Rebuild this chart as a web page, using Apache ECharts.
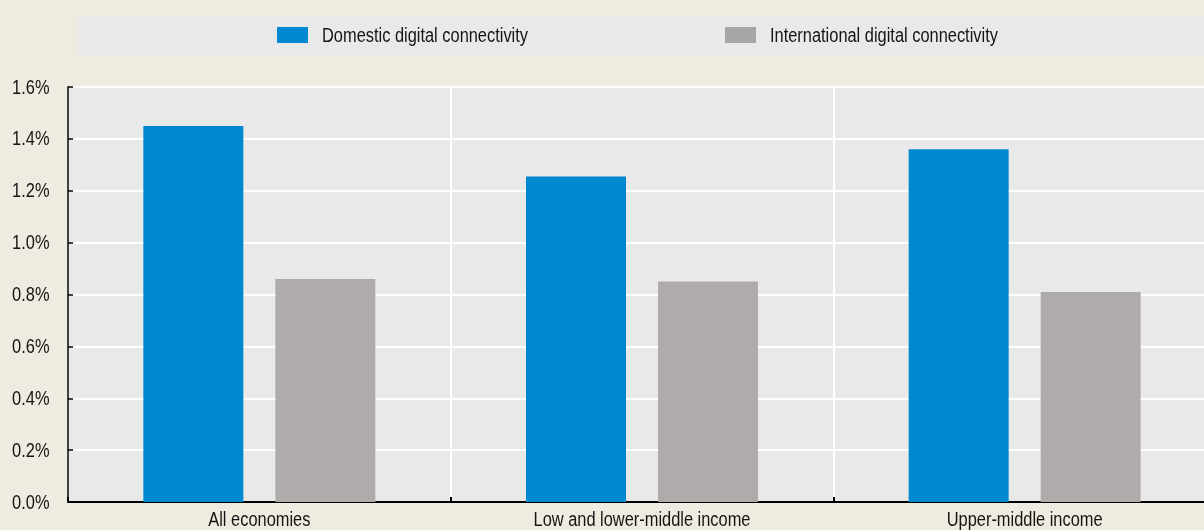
<!DOCTYPE html>
<html>
<head>
<meta charset="utf-8">
<style>
  html, body { margin: 0; padding: 0; background: #eeebe0; }
  #chart { width: 1204px; height: 530px; }
</style>
<script src="https://cdn.jsdelivr.net/npm/echarts@6/dist/echarts.min.js"></script>
</head>
<body>
<div id="chart"></div>
<script>
// Income groups on the horizontal axis
const categories = ['All economies', 'Low and lower-middle income', 'Upper-middle income'];
// Effects in percent
const domestic = [1.45, 1.255, 1.36];
const international = [0.86, 0.85, 0.81];
const seriesNames = ['Domestic digital connectivity', 'International digital connectivity'];
// Value-axis ticks and their labels
const yTicks = [0, 0.2, 0.4, 0.6, 0.8, 1.0, 1.2, 1.4, 1.6];
const yTickLabels = ['0.0%', '0.2%', '0.4%', '0.6%', '0.8%', '1.0%', '1.2%', '1.4%', '1.6%'];

const BLUE = '#0088d1';
const GREY = '#afabaa';
const GREY_KEY = '#a6a6a6';
const TEXT = '#151515';
// Narrow sans look: regular sans squeezed horizontally
const FONT = "20px 'Liberation Sans', Arial, sans-serif";
const SQUEEZE = 0.82;

const chart = echarts.init(document.getElementById('chart'), null, { renderer: 'canvas' });

chart.setOption({
  backgroundColor: '#eeebe0',
  animation: false,
  grid: {
    left: 68,
    top: 87,
    width: 1148,
    height: 415,
    outerBoundsMode: 'none',
    containLabel: false,
    show: true,
    backgroundColor: '#e9e9e9',
    borderWidth: 0
  },
  xAxis: {
    type: 'category',
    data: categories,
    boundaryGap: true,
    axisLine: { show: true, lineStyle: { color: '#000000', width: 2 } },
    axisTick: { show: true, inside: true, length: 5, lineStyle: { color: '#000000', width: 2 } },
    splitLine: { show: true, lineStyle: { color: '#ffffff', width: 2 } },
    axisLabel: { show: false }
  },
  yAxis: {
    type: 'value',
    min: yTicks[0],
    max: yTicks[yTicks.length - 1],
    interval: 0.2,
    axisLine: { show: true, lineStyle: { color: '#000000', width: 1.5 } },
    axisTick: { show: true, inside: true, length: 5, lineStyle: { color: '#000000', width: 1.5 } },
    splitLine: { show: true, lineStyle: { color: '#ffffff', width: 2 } },
    axisLabel: { show: false }
  },
  series: [
    {
      name: seriesNames[0],
      type: 'bar',
      data: domestic,
      barWidth: 100,
      barGap: '32%',
      itemStyle: { color: BLUE }
    },
    {
      name: seriesNames[1],
      type: 'bar',
      data: international,
      barWidth: 100,
      itemStyle: { color: GREY }
    }
  ]
});

// Text drawn as squeezed graphic labels, placed through the axes' own scales
function label(text, x, y, align, vAlign) {
  return {
    type: 'text',
    x: x, y: y,
    scaleX: SQUEEZE,
    silent: true,
    style: { text: text, font: FONT, fill: TEXT, align: align, verticalAlign: vAlign }
  };
}

const graphics = [];

// Legend band and keys
graphics.push({
  type: 'rect', z: -1, silent: true,
  shape: { x: 78, y: 16, width: 1140, height: 39 },
  style: { fill: '#e9e9e9' }
});
const keyColors = [BLUE, GREY_KEY];
const keyX = [277, 725];
seriesNames.forEach((name, i) => {
  graphics.push({
    type: 'rect', silent: true,
    shape: { x: keyX[i], y: 27, width: 31, height: 16 },
    style: { fill: keyColors[i] }
  });
  graphics.push(label(name, keyX[i] + 45, 36, 'left', 'middle'));
});

// Value-axis labels
yTicks.forEach((v, i) => {
  const py = chart.convertToPixel({ yAxisIndex: 0 }, v);
  graphics.push(label(yTickLabels[i], 49.5, py + 1, 'right', 'middle'));
});

// Category labels
const baseY = chart.convertToPixel({ yAxisIndex: 0 }, 0);
categories.forEach(c => {
  const px = chart.convertToPixel({ xAxisIndex: 0 }, c);
  graphics.push(label(c, px, baseY + 18, 'center', 'middle'));
});

chart.setOption({ graphic: graphics });
</script>
</body>
</html>
